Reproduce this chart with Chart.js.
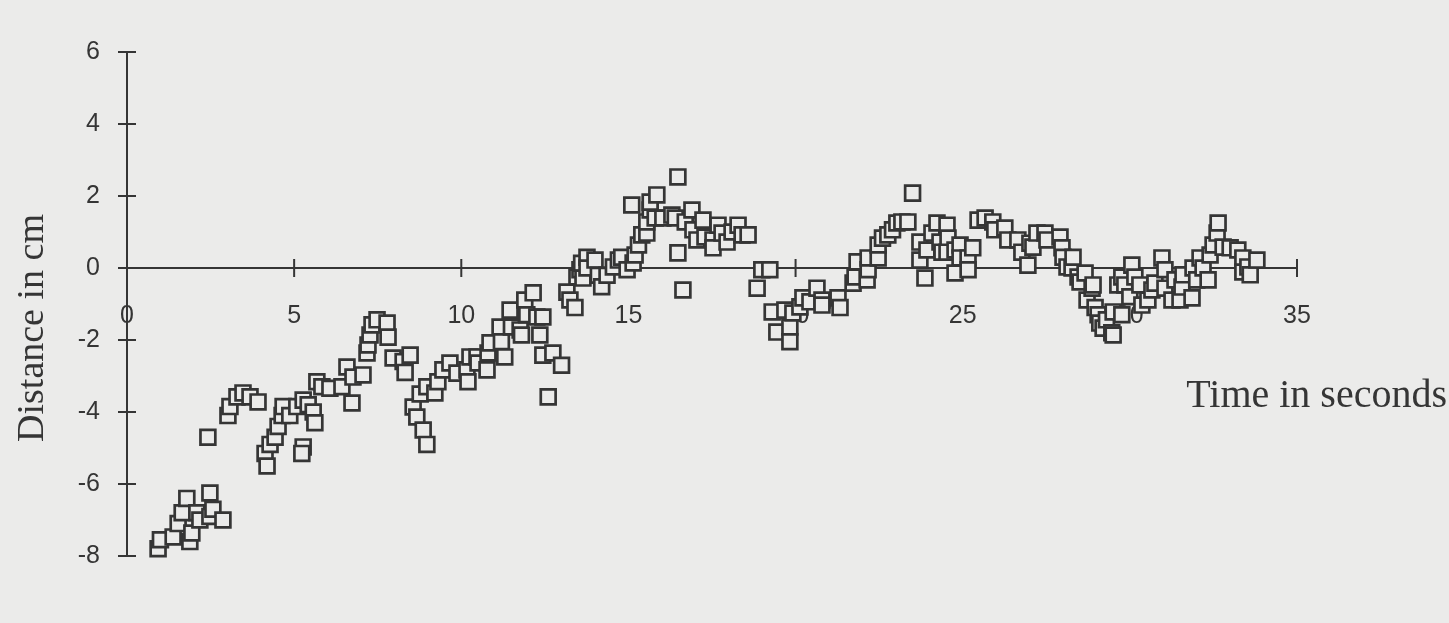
<!DOCTYPE html>
<html>
<head>
<meta charset="utf-8">
<script src="https://cdn.jsdelivr.net/npm/chart.js@4.4.1/dist/chart.umd.min.js"></script>
<style>
html, body { margin: 0; padding: 0; background: #ebebea; }
#wrap { width: 1449px; height: 623px; position: relative; }
</style>
</head>
<body>
<div id="wrap"><canvas id="grafik"></canvas></div>
<script>
// waktu (detik) dan jarak (cm)
const timeSec = [
  0.93, 1.0, 1.38, 1.53, 1.65, 1.79, 1.88, 1.94, 2.09, 2.18, 2.42, 2.48, 2.48, 2.57, 2.87,
  3.02, 3.08, 3.29, 3.47, 3.68, 3.92,
  4.13, 4.19, 4.28, 4.43, 4.52, 4.64, 4.67, 4.87, 5.08, 5.27, 5.27, 5.23, 5.42, 5.57, 5.62,
  5.68, 5.83, 6.07, 6.43, 6.58, 6.73, 6.76, 7.06,
  7.18, 7.21, 7.27, 7.33, 7.48, 7.78, 7.81,
  7.96, 8.26, 8.32, 8.47,
  8.56, 8.67, 8.77, 8.86, 8.97, 8.97, 9.21, 9.3, 9.45, 9.66, 9.87, 10.17, 10.2, 10.26, 10.47, 10.5,
  10.77, 10.8, 10.86, 11.16, 11.2, 11.3, 11.46, 11.5, 11.76, 11.8, 11.9, 11.96, 12.15, 12.26, 12.35,
  12.44, 12.44, 12.6, 12.74, 13.0,
  13.16, 13.25, 13.4, 13.46, 13.55, 13.6, 13.64, 13.76, 13.76, 14.0, 14.1, 14.2, 14.36, 14.55, 14.7,
  14.8, 14.96, 15.1, 15.14, 15.2, 15.3, 15.4, 15.55, 15.55, 15.65, 15.65, 15.8, 15.85, 16.03, 16.3,
  16.4, 16.48, 16.48, 16.63, 16.7, 16.9, 16.93, 17.05, 17.23, 17.29, 17.53, 17.53, 17.68, 17.8, 17.95,
  18.1, 18.28, 18.4, 18.58,
  18.85, 18.99, 19.23, 19.3, 19.44, 19.68, 19.83, 19.83, 19.92, 20.13, 20.22, 20.43, 20.64, 20.79,
  20.79, 21.27, 21.33,
  21.72, 21.78, 21.84, 22.14, 22.17, 22.17, 22.47, 22.47, 22.6, 22.76, 22.9, 23.03, 23.18, 23.36,
  23.5, 23.72, 23.72, 23.87, 23.93, 24.08, 24.23, 24.32, 24.38, 24.53, 24.56, 24.53, 24.77, 24.92,
  24.92, 24.77, 25.16, 25.16, 25.3,
  25.46, 25.67, 25.9, 25.96, 26.26, 26.35, 26.65, 26.77, 26.95, 27.01, 27.1, 27.22, 27.46, 27.52,
  27.91, 27.97, 28.0, 28.12, 28.27, 28.3, 28.45, 28.51, 28.66, 28.72, 28.87, 28.9, 28.96, 29.05,
  29.1, 29.2, 29.3, 29.46, 29.5, 29.5, 29.64, 29.76, 29.76, 29.85, 30.0, 30.06, 30.15, 30.3, 30.36,
  30.54, 30.66, 30.75, 30.96, 31.05, 31.05, 31.26, 31.35, 31.5, 31.56, 31.59, 31.86, 31.89, 32.0,
  32.1, 32.19, 32.34, 32.4, 32.49, 32.61, 32.64, 32.79, 33.0, 33.23, 33.38, 33.38, 33.53, 33.6, 33.8
];
const distanceCm = [
  -7.8, -7.55, -7.47, -7.1, -6.8, -6.4, -7.6, -7.36, -6.8, -7.0, -4.7, -6.25, -6.9, -6.7, -7.0,
  -4.1, -3.85, -3.58, -3.47, -3.58, -3.72,
  -5.15, -5.5, -4.9, -4.7, -4.4, -4.1, -3.85, -4.1, -3.85, -3.67, -4.97, -5.15, -3.8, -4.0, -4.3,
  -3.16, -3.3, -3.34, -3.3, -2.75, -3.75, -3.03, -2.97,
  -2.36, -2.14, -1.86, -1.58, -1.44, -1.53, -1.92,
  -2.5, -2.6, -2.9, -2.42,
  -3.86, -4.14, -3.5, -4.5, -4.9, -3.3, -3.47, -3.16, -2.83, -2.64, -2.92, -2.83, -3.16, -2.47, -2.47, -2.64,
  -2.83, -2.36, -2.08, -1.64, -2.05, -2.47, -1.17, -1.64, -1.72, -1.86, -0.89, -1.3, -0.69, -1.36, -1.86,
  -1.36, -2.42, -3.58, -2.36, -2.7,
  -0.67, -0.89, -1.1, -0.25, -0.05, 0.13, -0.28, 0.3, 0.0, 0.22, -0.2, -0.52, -0.2, 0.03, 0.22,
  0.3, -0.05, 1.75, 0.14, 0.36, 0.64, 0.92, 0.97, 1.28, 1.61, 1.83, 1.39, 2.03, 1.39, 1.47,
  1.39, 2.53, 0.42, -0.61, 1.28, 1.61, 1.06, 0.78, 1.33, 0.86, 0.78, 0.56, 1.19, 0.97, 0.72,
  1.0, 1.19, 0.92, 0.92,
  -0.56, -0.05, -0.05, -1.22, -1.78, -1.17, -1.64, -2.05, -1.25, -1.08, -0.83, -0.94, -0.56, -0.89,
  -1.03, -0.83, -1.1,
  -0.42, -0.25, 0.17, -0.33, -0.05, 0.28, 0.28, 0.64, 0.83, 0.92, 1.06, 1.25, 1.28, 1.28,
  2.08, 0.22, 0.72, -0.28, 0.5, 0.97, 1.25, 0.72, 0.44, 1.19, 0.83, 0.44, 0.5, 0.64,
  0.28, -0.14, 0.28, -0.05, 0.56,
  1.33, 1.39, 1.28, 1.06, 1.11, 0.78, 0.78, 0.44, 0.08, 0.69, 0.58, 0.97, 0.97, 0.78,
  0.86, 0.56, 0.3, 0.03, 0.0, 0.3, -0.25, -0.39, -0.14, -0.89, -0.56, -0.47, -1.1, -1.3,
  -1.53, -1.67, -1.44, -1.8, -1.86, -1.22, -0.47, -0.25, -1.3, -0.47, -0.8, 0.08, -0.25, -0.47, -1.03,
  -0.89, -0.61, -0.42, 0.28, -0.05, -0.56, -0.89, -0.33, -0.89, -0.53, -0.19, -0.83, 0.0, -0.33,
  0.28, 0.0, -0.33, 0.36, 0.64, 0.97, 1.25, 0.58, 0.56, 0.5, 0.28, -0.11, 0.03, -0.19, 0.22
];
const xTicks = [0, 5, 10, 15, 20, 25, 30, 35];
const yTicks = [-8, -6, -4, -2, 0, 2, 4, 6];
const xTitle = 'Time in seconds';
const yTitle = 'Distance in cm';

const ink = '#353535';
const kertas = '#ebebea';

// tanda tick yang menyilang sumbu + kedua judul sumbu
const sumbuSilang = {
  id: 'sumbuSilang',
  beforeDatasetsDraw(chart) {
    const { ctx, scales: { x, y } } = chart;
    const y0 = y.getPixelForValue(0);
    const x0 = x.getPixelForValue(0);
    ctx.save();
    ctx.strokeStyle = ink;
    ctx.lineWidth = 2;
    ctx.beginPath();
    xTicks.forEach(v => {
      const px = x.getPixelForValue(v);
      ctx.moveTo(px, y0 - 9);
      ctx.lineTo(px, y0 + 9);
    });
    yTicks.forEach(v => {
      const py = y.getPixelForValue(v);
      ctx.moveTo(x0 - 9, py);
      ctx.lineTo(x0 + 9, py);
    });
    ctx.stroke();
    ctx.restore();
  },
  afterDraw(chart) {
    const ctx = chart.ctx;
    ctx.save();
    ctx.fillStyle = ink;
    ctx.font = '40px "Liberation Serif"';
    ctx.textAlign = 'right';
    ctx.textBaseline = 'alphabetic';
    ctx.fillText(xTitle, 1447, 407);
    ctx.translate(33, 328);
    ctx.rotate(-Math.PI / 2);
    ctx.font = '38px "Liberation Serif"';
    ctx.textAlign = 'center';
    ctx.textBaseline = 'middle';
    ctx.fillText(yTitle, 0, 0);
    ctx.restore();
  }
};

const points = timeSec.map((t, i) => ({ x: t, y: distanceCm[i] }));

new Chart(document.getElementById('grafik'), {
  type: 'scatter',
  data: {
    datasets: [{
      data: points,
      clip: false,
      pointStyle: 'rect',
      pointRadius: 10.5,
      pointHoverRadius: 10.5,
      pointBorderWidth: 2.7,
      borderColor: ink,
      backgroundColor: kertas
    }]
  },
  options: {
    responsive: true,
    maintainAspectRatio: false,
    animation: false,
    layout: { padding: { top: 52, right: 152, bottom: 67, left: 0 } },
    plugins: { legend: { display: false }, tooltip: { enabled: false } },
    scales: {
      x: {
        type: 'linear',
        min: 0,
        max: 35,
        position: { y: 0 },
        afterBuildTicks: s => { s.ticks = xTicks.map(v => ({ value: v })); },
        grid: { display: false, drawTicks: false },
        border: { display: true, color: ink, width: 2 },
        ticks: {
          color: ink,
          padding: 33,
          maxRotation: 0,
          autoSkip: false,
          font: { family: 'Liberation Sans', size: 25 }
        }
      },
      y: {
        type: 'linear',
        min: -8,
        max: 6,
        afterBuildTicks: s => { s.ticks = yTicks.map(v => ({ value: v })); },
        afterFit: s => { s.width = 127; },
        grid: { display: false, drawTicks: false },
        border: { display: true, color: ink, width: 2 },
        ticks: {
          color: ink,
          padding: 27,
          font: { family: 'Liberation Sans', size: 25 }
        },
        title: { display: false }
      }
    }
  },
  plugins: [sumbuSilang]
});
</script>
</body>
</html>
